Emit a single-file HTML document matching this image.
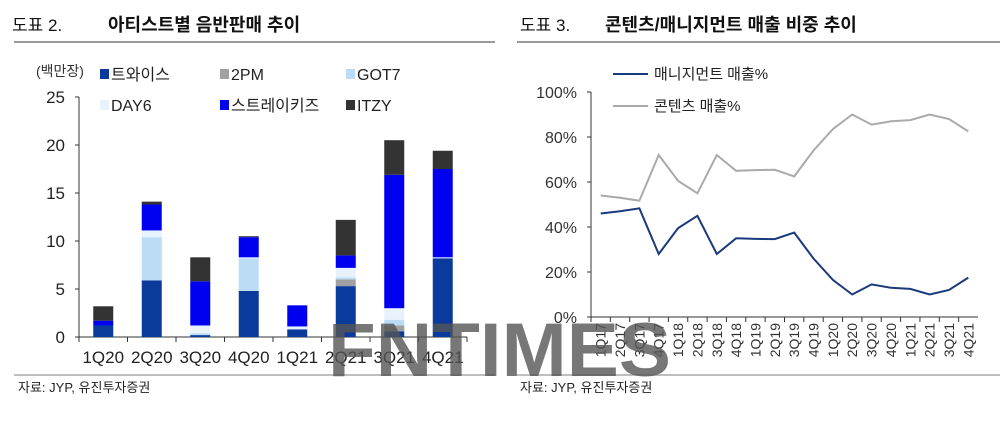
<!DOCTYPE html>
<html><head><meta charset="utf-8"><style>
body{margin:0;width:1000px;height:424px;background:#fff;overflow:hidden;font-family:"Liberation Sans","Noto Sans CJK KR",sans-serif;}
svg text{font-family:"Liberation Sans","Noto Sans CJK KR",sans-serif;}
</style></head><body>
<svg id="s" width="1000" height="424" xmlns="http://www.w3.org/2000/svg">
<g>
<text x="12" y="31" font-size="17" fill="#111">도표 2.</text>
<text x="108" y="31" font-size="18" font-weight="bold" fill="#111">아티스트별 음반판매 추이</text>
<line x1="14" y1="42" x2="495" y2="42" stroke="#999" stroke-width="2"/>
</g>
<g>
<text x="520" y="31" font-size="17" fill="#111">도표 3.</text>
<text x="605" y="31" font-size="18" font-weight="bold" fill="#111">콘텐츠/매니지먼트 매출 비중 추이</text>
<line x1="517" y1="42" x2="1000" y2="42" stroke="#999" stroke-width="2"/>
</g>
<g id="left"></g>
<g id="right"></g>
<line x1="14" y1="375" x2="495" y2="375" stroke="#aaa" stroke-width="1.5"/>
<line x1="517" y1="375" x2="1000" y2="375" stroke="#aaa" stroke-width="1.5"/>
<text x="18" y="392" font-size="13" fill="#222">자료: JYP, 유진투자증권</text>
<text x="520" y="392" font-size="13" fill="#222">자료: JYP, 유진투자증권</text>
<text x="328" y="376" font-size="76" font-weight="bold" fill="#555" fill-opacity="0.8" textLength="343" lengthAdjust="spacingAndGlyphs">FNTIMES</text>
</svg>
<script>
const NS="http://www.w3.org/2000/svg";
function mk(p,t,a){const e=document.createElementNS(NS,t);for(const k in a)e.setAttribute(k,a[k]);p.appendChild(e);return e;}
// ---- bar chart data
const barCats=["1Q20","2Q20","3Q20","4Q20","1Q21","2Q21","3Q21","4Q21"];
const seriesNames=["트와이스","2PM","GOT7","DAY6","스트레이키즈","ITZY"];
const twice=[1.2,5.9,0.2,4.8,0.8,5.3,0.6,8.2];
const pm2=[0,0,0,0,0,0.7,0.6,0];
const got7=[0,4.5,0.2,3.4,0,0.2,0.6,0];
const day6=[0,0.7,0.8,0.1,0.3,1.0,1.2,0.1];
const skz=[0.5,2.7,4.6,2.1,2.2,1.3,13.9,9.2];
const itzy=[1.5,0.3,2.5,0.1,0,3.7,3.6,1.9];
const barTicks=[0,5,10,15,20,25];
const seriesColors=["#0a3a9c","#a0a0a0","#bcdcf6","#e8f2fc","#0000f0","#333333"];
const L=document.getElementById("left");
const bx0=79,bx1=467,by0=337,by1=97;
const ys=v=>by0-(v/25)*(by0-by1);
const bw=(bx1-bx0)/barCats.length;
const xs=i=>bx0+bw*(i+0.5);
mk(L,"line",{x1:bx0,y1:by1,x2:bx0,y2:by0,stroke:"#333"});
mk(L,"line",{x1:bx0,y1:by0,x2:bx1,y2:by0,stroke:"#333"});
barTicks.forEach(t=>{mk(L,"line",{x1:bx0-4,y1:ys(t),x2:bx0,y2:ys(t),stroke:"#333"});
const tx=mk(L,"text",{x:bx0-14,y:ys(t)+6,"font-size":17,"text-anchor":"end",fill:"#222"});tx.textContent=t;

});
for(let i=0;i<=barCats.length;i++)mk(L,"line",{x1:bx0+bw*i,y1:by0,x2:bx0+bw*i,y2:by0+5,stroke:"#333"});
const all=[twice,pm2,got7,day6,skz,itzy];
barCats.forEach((c,i)=>{let acc=0;
all.forEach((s,k)=>{const v=s[i];if(v>0){const r=mk(L,"rect",{x:xs(i)-10,y:ys(acc+v),width:20,height:ys(acc)-ys(acc+v),fill:seriesColors[k]});

}acc+=v;});
const t=mk(L,"text",{x:xs(i),y:363,"font-size":17,"text-anchor":"middle",fill:"#222"});t.textContent=c;

});
const u=mk(L,"text",{x:36,y:76,"font-size":14,fill:"#333"});u.textContent="(백만장)";


const legPos=[[100,80],[220,80],[346,80],[100,111],[220,111],[346,111]];
seriesNames.forEach((n,k)=>{const g=mk(L,"g",{});


mk(g,"rect",{x:legPos[k][0],y:legPos[k][1]-11,width:9,height:10,fill:seriesColors[k]});
const t=mk(g,"text",{x:legPos[k][0]+11,y:legPos[k][1],"font-size":16,fill:"#222"});t.textContent=n;});
// ---- line chart data
const lineCats=["1Q17","2Q17","3Q17","4Q17","1Q18","2Q18","3Q18","4Q18","1Q19","2Q19","3Q19","4Q19","1Q20","2Q20","3Q20","4Q20","1Q21","2Q21","3Q21","4Q21"];
const mgmt=[46,47,48.3,28,39.5,45,28,35,34.7,34.6,37.5,26,16.5,10,14.5,13,12.5,10,12,17.5];
const content=[54,53,51.7,72,60.5,55,72,65,65.3,65.4,62.5,74,83.5,90,85.5,87,87.5,90,88,82.5];
const lineTicks=[0,20,40,60,80,100];
const R=document.getElementById("right");
const lx0=591,lx1=978,ly0=317,ly1=92;
const ly=v=>ly0-(v/100)*(ly0-ly1);
const step=(lx1-lx0)/lineCats.length;
const lxs=i=>lx0+step*(i+0.5);
mk(R,"line",{x1:lx0,y1:ly1,x2:lx0,y2:ly0,stroke:"#333"});
mk(R,"line",{x1:lx0,y1:ly0,x2:lx1,y2:ly0,stroke:"#333"});
lineTicks.forEach(t=>{mk(R,"line",{x1:lx0-4,y1:ly(t),x2:lx0,y2:ly(t),stroke:"#333"});
const tx=mk(R,"text",{x:lx0-14,y:ly(t)+6,"font-size":16,"text-anchor":"end",fill:"#333"});tx.textContent=t+"%";

});
lineCats.forEach((c,i)=>{mk(R,"line",{x1:lx0+step*i,y1:ly0,x2:lx0+step*i,y2:ly0+5,stroke:"#333"});
const t=mk(R,"text",{x:0,y:0,"font-size":14,"text-anchor":"end",fill:"#333",transform:`translate(${lxs(i)+5},${ly0+6}) rotate(-90)`});t.textContent=c;

});
const pth=a=>a.map((v,i)=>(i?"L":"M")+lxs(i).toFixed(1)+","+ly(v).toFixed(1)).join(" ");
const p2=mk(R,"path",{d:pth(content),fill:"none",stroke:"#aaaaaa","stroke-width":2});


const p1=mk(R,"path",{d:pth(mgmt),fill:"none",stroke:"#1a3a7c","stroke-width":2});


[["매니지먼트 매출%","#1a3a7c",79],["콘텐츠 매출%","#aaaaaa",111]].forEach(([n,col,y])=>{const g=mk(R,"g",{});


mk(g,"line",{x1:613,y1:y-5,x2:648,y2:y-5,stroke:col,"stroke-width":2});
const t=mk(g,"text",{x:654,y:y,"font-size":15,fill:"#222"});t.textContent=n;});
</script>
</body></html>
